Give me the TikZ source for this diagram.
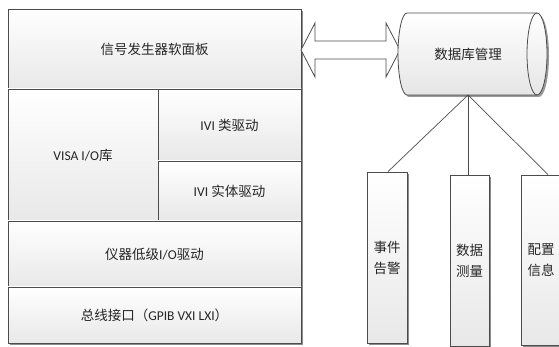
\documentclass[tikz,border=0pt]{standalone}
\usepackage{fontspec}
\setmainfont{Carlito}
\newfontfamily\zh{Noto Sans CJK SC}
\usetikzlibrary{shadows}
\begin{document}
\begin{tikzpicture}[x=1pt,y=1pt,
  blk/.style={draw=black!70, line width=0.8pt, rectangle, inner sep=0pt,
    top color=white, bottom color=black!9,
    drop shadow={shadow xshift=1.8pt,shadow yshift=-1.8pt,fill=black!45,opacity=1},
    text=black!85, font=\fontsize{13.5}{16}\selectfont},
  vbox/.style={blk, minimum width=40pt, minimum height=171pt, align=center,
    font=\fontsize{13.5}{21}\selectfont\zh},
  link/.style={draw=black!70, line width=0.7pt},
  shapeline/.style={draw=black!70, line width=0.8pt}
]
\useasboundingbox (0,0) rectangle (559,347);

% left stack
\node[blk, minimum width=293pt, minimum height=80pt] (panel) at (154.5,298) {\zh 信号发生器软面板};
\node[blk, minimum width=150pt, minimum height=132pt] (visa) at (83,192) {VISA I/O{\zh 库}};
\node[blk, minimum width=143pt, minimum height=72pt] (ivicls) at (229.5,222) {IVI {\zh 类驱动}};
\node[blk, minimum width=143pt, minimum height=60pt] (ivient) at (229.5,156) {IVI {\zh 实体驱动}};
\node[blk, minimum width=293pt, minimum height=66pt] (lowio) at (154.5,93) {{\zh 仪器低级}I/O{\zh 驱动}};
\node[blk, minimum width=293pt, minimum height=56pt] (bus) at (154.5,32) {{\zh 总线接口（}GPIB VXI LXI{\zh ）}};

% double arrow
\draw[shapeline, fill=white]
  (301,297) -- (315,324) -- (315,306) -- (386,306) -- (386,324) -- (400,297)
  -- (386,270) -- (386,288) -- (315,288) -- (315,270) -- cycle;

% database cylinder
\fill[black!40] (409,332) -- (539,332) arc[start angle=90,end angle=-90,x radius=10,y radius=41]
  -- (409,250) arc[start angle=270,end angle=90,x radius=9,y radius=41] -- cycle;
\shade[top color=white, bottom color=black!10]
  (407,334) -- (537,334) arc[start angle=90,end angle=-90,x radius=10,y radius=41]
  -- (407,252) arc[start angle=270,end angle=90,x radius=9,y radius=41] -- cycle;
\draw[shapeline]
  (407,334) -- (537,334) arc[start angle=90,end angle=-90,x radius=10,y radius=41]
  -- (407,252) arc[start angle=270,end angle=90,x radius=9,y radius=41] -- cycle;
\draw[shapeline] (537,334) arc[start angle=90,end angle=270,x radius=10,y radius=41];
\node[text=black!85, font=\fontsize{13.5}{16}\selectfont\zh] (db) at (468,293) {数据库管理};
\coordinate (dbbot) at (468,252);

% right boxes
\node[vbox] (ev) at (387,89.5) {事件\\告警};
\node[vbox, minimum width=39pt] (meas) at (469.5,86.5) {数据\\测量};
\node[vbox, minimum height=170pt] (cfg) at (541,87) {配置\\信息};

\draw[link] (dbbot) -- ([xshift=1pt]ev.north);
\draw[link] (dbbot) -- ([xshift=-1.5pt]meas.north);
\draw[link] (dbbot) -- ([xshift=7pt]cfg.north);
\end{tikzpicture}
\end{document}
